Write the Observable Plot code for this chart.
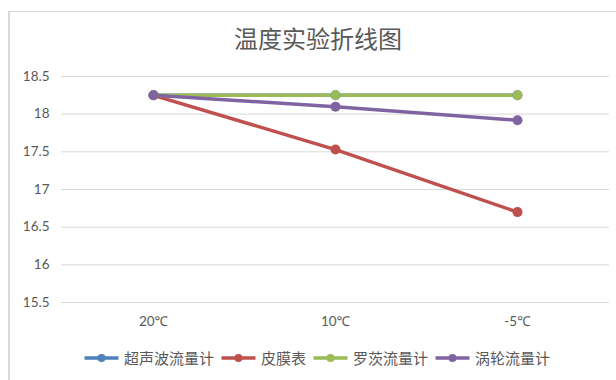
<!DOCTYPE html>
<html><head><meta charset="utf-8">
<script src="https://cdn.jsdelivr.net/npm/d3@7"></script>
<script src="https://cdn.jsdelivr.net/npm/@observablehq/plot@0.6"></script>
<style>
body{margin:0;background:#fff;width:616px;height:380px;overflow:hidden;position:relative;font-family:"Noto Sans CJK SC","Noto Sans",sans-serif;}
#frame{position:absolute;left:8px;top:11px;width:640px;height:400px;border:1px solid #d9d9d9;border-left-width:2px;box-sizing:border-box;}
#title{position:absolute;left:0;width:636px;top:21px;line-height:34px;text-align:center;font-size:24px;color:#595959;font-family:"Noto Sans CJK SC",sans-serif;}
#chart{position:absolute;left:0;top:0;}
#legend{position:absolute;left:0;width:634px;top:347px;height:22px;display:flex;justify-content:center;align-items:center;font-size:15px;line-height:22px;color:#595959;}
#legend .it{display:flex;align-items:center;margin:0 3.5px;}
#legend svg{margin-right:5px;}
</style></head>
<body>
<div id="frame"></div>
<div id="title">温度实验折线图</div>
<div id="chart"></div>
<div id="legend"></div>
<script>
const categories = ["20℃", "10℃", "-5℃"];
const seriesNames = ["超声波流量计", "皮膜表", "罗茨流量计", "涡轮流量计"];
const seriesColors = ["#4F81BD", "#C0504D", "#9BBB59", "#8064A2"];
const ultrasonic = [18.25, 18.25, 18.25];
const diaphragm = [18.25, 17.53, 16.7];
const roots = [18.25, 18.25, 18.25];
const turbine = [18.25, 18.1, 17.92];
const yTicks = [15.5, 16, 16.5, 17, 17.5, 18, 18.5];

const seriesValues = [ultrasonic, diaphragm, roots, turbine];
const data = [];
seriesNames.forEach((s, i) => categories.forEach((c, j) => data.push({series: s, cat: c, value: seriesValues[i][j]})));

const plot = Plot.plot({
  width: 616, height: 380,
  marginTop: 76, marginBottom: 78, marginLeft: 61, marginRight: 7,
  style: {fontFamily: "Lato, 'Noto Sans', sans-serif", fontSize: "13.5px", color: "#595959", background: "transparent"},
  x: {type: "point", domain: categories, padding: 0.5, label: null, tickSize: 0, tickPadding: 14},
  y: {domain: [15.5, 18.5], ticks: yTicks, tickFormat: d => String(d), label: null, tickSize: 0, tickPadding: 12},
  color: {domain: seriesNames, range: seriesColors},
  marks: [
    Plot.ruleY(yTicks, {stroke: "#d9d9d9", strokeWidth: 1}),
    Plot.line(data, {x: "cat", y: "value", z: "series", stroke: "series", strokeWidth: 3.5}),
    Plot.dot(data, {x: "cat", y: "value", fill: "series", r: 5})
  ]
});
document.getElementById("chart").appendChild(plot);

const legend = document.getElementById("legend");
seriesNames.forEach((s, i) => {
  const it = document.createElement("div");
  it.className = "it";
  it.innerHTML = `<svg width="35" height="12"><line x1="0.5" x2="34.5" y1="6" y2="6" stroke="${seriesColors[i]}" stroke-width="3.5"/><circle cx="17.5" cy="6" r="4" fill="${seriesColors[i]}"/></svg><span>${s}</span>`;
  legend.appendChild(it);
});
</script>
</body></html>
